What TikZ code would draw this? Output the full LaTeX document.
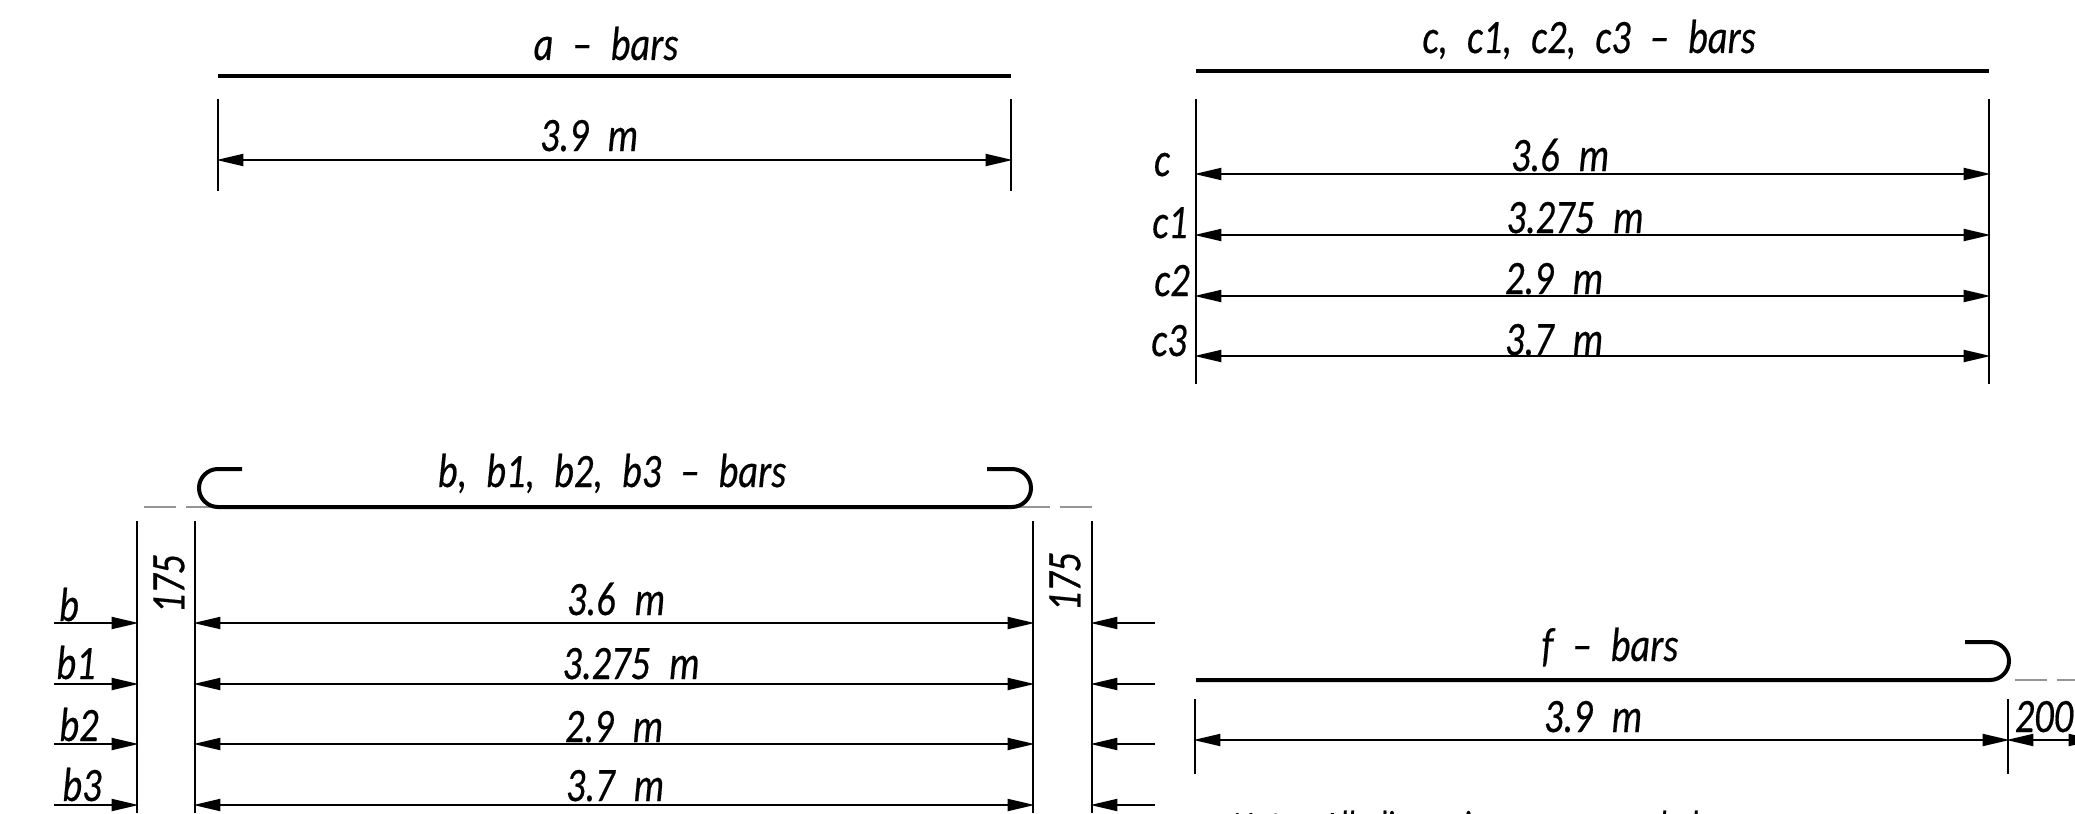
\documentclass[tikz,border=0pt]{standalone}
\usepackage{fontspec}
\setmainfont[FakeStretch=0.8,WordSpace=2.2,FakeBold=0.4]{Carlito}
\usetikzlibrary{arrows.meta, positioning}

\begin{document}
\begin{tikzpicture}[x=0.5pt,y=-0.5pt]
  \tikzstyle{barline}=[line width=2pt]
  \tikzstyle{extline}=[line width=1pt]
  \tikzstyle{hookline}=[line width=1.4pt,draw={rgb:black,5;white,7},dash pattern=on 16pt off 5pt]
  \tikzstyle{dimline}=[line width=1pt,shorten >=-0.8pt,shorten <=-0.8pt,{Triangle[length=13.5pt,width=6pt]}-{Triangle[length=13.5pt,width=6pt]}]
  \tikzstyle{leadline}=[line width=1pt,shorten >=-0.8pt,-{Triangle[length=13.5pt,width=6pt]}]
  \tikzstyle{lbl}=[anchor=base,inner sep=0pt,font=\fontsize{24}{24}\selectfont\itshape]

  \useasboundingbox (0,0) rectangle (2075,813);
  \clip (0,0) rectangle (2075,813);

  % a bars
  \coordinate (a_l) at (218,76);
  \coordinate (a_r) at (1011,76);
  \coordinate (a_lt) at (218,99);
  \coordinate (a_lb) at (218,191);
  \coordinate (a_rt) at (1011,99);
  \coordinate (a_rb) at (1011,191);
  \coordinate (a_dl) at (218,160);
  \coordinate (a_dr) at (1011,160);
  \node[lbl] (a_title) at (606,60)  {a -- bars};
  \node[lbl] (a_len)   at (589,151) {3.9 m};
  \draw[barline] (a_l) -- (a_r);
  \draw[extline] (a_lt) -- (a_lb);
  \draw[extline] (a_rt) -- (a_rb);
  \draw[dimline] (a_dl) -- (a_dr);

  % c bars
  \coordinate (c_l) at (1196,71);
  \coordinate (c_r) at (1989,71);
  \coordinate (c_lt) at (1196,99);
  \coordinate (c_lb) at (1196,384);
  \coordinate (c_rt) at (1989,99);
  \coordinate (c_rb) at (1989,384);
  \coordinate (c_l0) at (1196,174);
  \coordinate (c_r0) at (1989,174);
  \coordinate (c_l1) at (1196,235);
  \coordinate (c_r1) at (1989,235);
  \coordinate (c_l2) at (1196,296);
  \coordinate (c_r2) at (1989,296);
  \coordinate (c_l3) at (1196,356);
  \coordinate (c_r3) at (1989,356);
  \node[lbl] (c_title) at (1589,53)  {c, c1, c2, c3 -- bars};
  \node[lbl] (c_len0)  at (1560,171) {3.6 m};
  \node[lbl] (c_len1)  at (1575,233) {3.275 m};
  \node[lbl] (c_len2)  at (1554,294) {2.9 m};
  \node[lbl] (c_len3)  at (1554,355) {3.7 m};
  \node[lbl] (c_name0) at (1162,176) {c};
  \node[lbl] (c_name1) at (1170,238) {c1};
  \node[lbl] (c_name2) at (1172,296) {c2};
  \node[lbl] (c_name3) at (1169,356) {c3};
  \draw[barline] (c_l) -- (c_r);
  \draw[extline] (c_lt) -- (c_lb);
  \draw[extline] (c_rt) -- (c_rb);
  \path[dimline]
  (c_l0) edge (c_r0)
  (c_l1) edge (c_r1)
  (c_l2) edge (c_r2)
  (c_l3) edge (c_r3)
  ;

  % b bars
  \coordinate (b_hl) at (242,469);
  \coordinate (b_hr) at (987,469);
  \coordinate (b_gl) at (144,507);
  \coordinate (b_gl2) at (218,507);
  \coordinate (b_gr) at (1018,507);
  \coordinate (b_gr2) at (1092,507);
  \draw[hookline] (b_gl) -- (b_gl2);
  \draw[hookline] (b_gr) -- (b_gr2);
  \draw[barline] (b_hl) -- (218,469) arc[start angle=270,end angle=90,radius=19]
    -- (1012,507) arc[start angle=90,end angle=-90,radius=19] -- (b_hr);
  \coordinate (b_xa) at (137,521);
  \coordinate (b_xa2) at (137,813);
  \coordinate (b_xb) at (195,521);
  \coordinate (b_xb2) at (195,813);
  \coordinate (b_xc) at (1033,521);
  \coordinate (b_xc2) at (1033,813);
  \coordinate (b_xd) at (1092,521);
  \coordinate (b_xd2) at (1092,813);
  \draw[extline] (b_xa) -- (b_xa2);
  \draw[extline] (b_xb) -- (b_xb2);
  \draw[extline] (b_xc) -- (b_xc2);
  \draw[extline] (b_xd) -- (b_xd2);
  \node[lbl] (b_title) at (612,487) {b, b1, b2, b3 -- bars};
  \node[lbl,anchor=center,rotate=90] (b_gapl) at (169,584)  {175};
  \node[lbl,anchor=center,rotate=90] (b_gapr) at (1065,582) {175};
  \node[lbl] (b_len0)  at (616,615) {3.6 m};
  \node[lbl] (b_len1)  at (631,679) {3.275 m};
  \node[lbl] (b_len2)  at (614,742) {2.9 m};
  \node[lbl] (b_len3)  at (615,801) {3.7 m};
  \node[lbl] (b_name0) at (69,621)  {b};
  \node[lbl] (b_name1) at (76,679)  {b1};
  \node[lbl] (b_name2) at (79,741)  {b2};
  \node[lbl] (b_name3) at (82,801)  {b3};

  \coordinate (b_a0) at (54,623);
  \coordinate (b_b0) at (137,623);
  \coordinate (b_c0) at (195,623);
  \coordinate (b_d0) at (1033,623);
  \coordinate (b_e0) at (1092,623);
  \coordinate (b_f0) at (1155,623);
  \coordinate (b_a1) at (54,684);
  \coordinate (b_b1) at (137,684);
  \coordinate (b_c1) at (195,684);
  \coordinate (b_d1) at (1033,684);
  \coordinate (b_e1) at (1092,684);
  \coordinate (b_f1) at (1155,684);
  \coordinate (b_a2) at (54,744);
  \coordinate (b_b2) at (137,744);
  \coordinate (b_c2) at (195,744);
  \coordinate (b_d2) at (1033,744);
  \coordinate (b_e2) at (1092,744);
  \coordinate (b_f2) at (1155,744);
  \coordinate (b_a3) at (54,805);
  \coordinate (b_b3) at (137,805);
  \coordinate (b_c3) at (195,805);
  \coordinate (b_d3) at (1033,805);
  \coordinate (b_e3) at (1092,805);
  \coordinate (b_f3) at (1155,805);
  \path[leadline]
  (b_a0) edge (b_b0)
  (b_a1) edge (b_b1)
  (b_a2) edge (b_b2)
  (b_a3) edge (b_b3)
  (b_f0) edge (b_e0)
  (b_f1) edge (b_e1)
  (b_f2) edge (b_e2)
  (b_f3) edge (b_e3)
  ;
  \path[dimline]
  (b_c0) edge (b_d0)
  (b_c1) edge (b_d1)
  (b_c2) edge (b_d2)
  (b_c3) edge (b_d3)
  ;

  % f bars
  \coordinate (f_l) at (1196,680);
  \coordinate (f_h) at (1965,642);
  \coordinate (f_g) at (2015,680);
  \coordinate (f_g2) at (2075,680);
  \draw[hookline] (f_g) -- (f_g2);
  \draw[barline] (f_l) -- (1990,680) arc[start angle=90,end angle=-90,radius=19] -- (f_h);
  \coordinate (f_lt) at (1195,699);
  \coordinate (f_lb) at (1195,774);
  \coordinate (f_rt) at (2008,699);
  \coordinate (f_rb) at (2008,774);
  \coordinate (f_dl) at (1195,740);
  \coordinate (f_dr) at (2008,740);
  \coordinate (f_de) at (2094,740);
  \draw[extline] (f_lt) -- (f_lb);
  \draw[extline] (f_rt) -- (f_rb);
  \draw[dimline] (f_dl) -- (f_dr);
  \draw[dimline] (f_dr) -- (f_de);
  \node[lbl] (f_title) at (1610,661)  {f -- bars};
  \node[lbl] (f_len)   at (1593,732)  {3.9 m};
  \node[lbl] (f_hook)  at (2044,732)  {200};
  \node[lbl,anchor=base west,xscale=0.83] (note) at (1232,844) {Note: All dimensions are rounded};
\end{tikzpicture}
\end{document}
